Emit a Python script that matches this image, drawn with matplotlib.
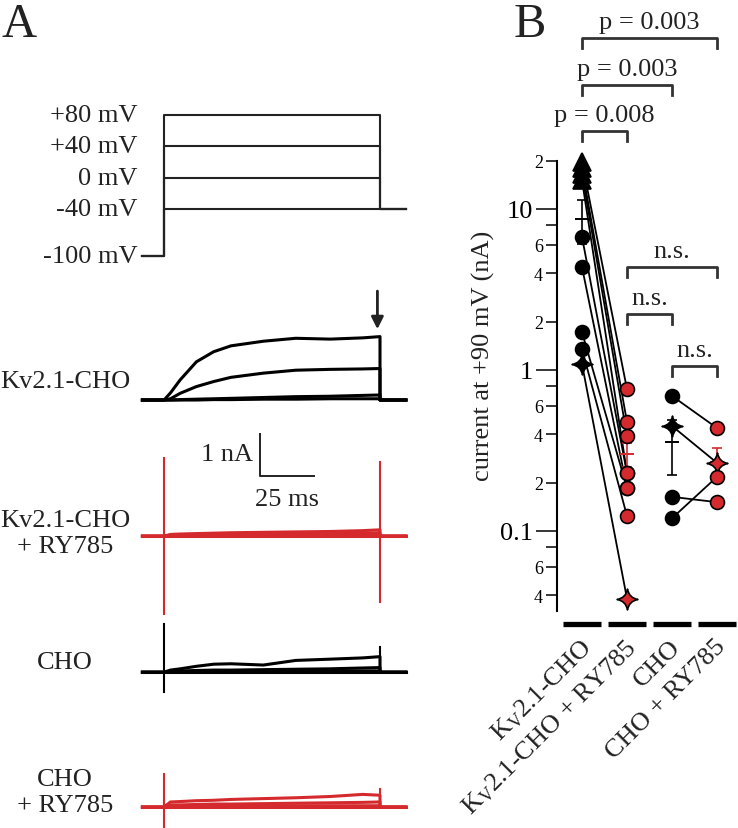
import matplotlib
matplotlib.use("Agg")
import matplotlib.pyplot as plt
import matplotlib.transforms as mtransforms
from matplotlib.path import Path

plt.rcParams['font.family'] = ['Liberation Serif', 'DejaVu Serif']
plt.rcParams['mathtext.fontset'] = 'custom'
plt.rcParams['mathtext.rm'] = 'Liberation Serif'
plt.rcParams['mathtext.it'] = 'Liberation Serif:italic'

W, H = 738, 829
RED = '#d42a2e'
INK = '#222222'
FS = 19

# ---------------- panel A data ----------------
step_levels = [80, 40, 0, -40]          # mV
volt_labels = ['+80 mV', '+40 mV', '0 mV', '-40 mV', '-100 mV']
hold_v = -100
tail_v = -40
t_pre, t_step, t_end = -10, 100, 112    # ms

# currents (nA) at these times during the step
t_samp = [0, 3, 7.5, 15, 23, 31, 46, 61, 77, 92, 100]
kv_traces = [
    [0, 0.17, 0.48, 0.91, 1.15, 1.29, 1.40, 1.47, 1.45, 1.48, 1.51],
    [0, 0.03, 0.16, 0.32, 0.44, 0.54, 0.64, 0.71, 0.73, 0.74, 0.75],
    [0, 0.0, 0.01, 0.02, 0.03, 0.04, 0.06, 0.08, 0.09, 0.11, 0.12],
    [0, 0.0, 0.0, 0.0, 0.01, 0.01, 0.02, 0.02, 0.03, 0.03, 0.03],
]
kvry_traces = [
    [0, 0.04, 0.05, 0.06, 0.07, 0.08, 0.09, 0.10, 0.11, 0.13, 0.15],
    [0, 0.02, 0.03, 0.03, 0.04, 0.05, 0.05, 0.06, 0.07, 0.07, 0.08],
    [0, 0.01, 0.01, 0.01, 0.02, 0.02, 0.02, 0.03, 0.03, 0.03, 0.03],
    [0, 0.0, 0.0, 0.0, 0.0, 0.0, 0.0, 0.0, 0.0, 0.0, 0.0],
]
cho_traces = [
    [0, 0.05, 0.08, 0.14, 0.19, 0.20, 0.17, 0.28, 0.31, 0.34, 0.37],
    [0, 0.02, 0.03, 0.04, 0.05, 0.05, 0.06, 0.07, 0.08, 0.10, 0.11],
    [0, 0.01, 0.01, 0.02, 0.02, 0.02, 0.02, 0.03, 0.03, 0.03, 0.03],
    [0, 0.0, 0.0, 0.0, 0.0, 0.0, 0.0, 0.0, 0.0, 0.0, 0.0],
]
chory_traces = [
    [0, 0.12, 0.13, 0.15, 0.16, 0.18, 0.20, 0.22, 0.25, 0.30, 0.28],
    [0, 0.05, 0.05, 0.06, 0.07, 0.07, 0.08, 0.09, 0.10, 0.11, 0.12],
    [0, 0.02, 0.02, 0.02, 0.02, 0.02, 0.03, 0.03, 0.03, 0.03, 0.03],
    [0, 0.0, 0.0, 0.0, 0.0, 0.0, 0.0, 0.0, 0.0, 0.0, 0.0],
]
# capacitive transients (nA): on-up, on-down, off-up, off-down
kvry_spikes = [1.86, -1.86, 1.76, -1.57]
cho_spikes = [1.14, -0.48, 0.61, 0.0]
chory_spikes = [0.78, -0.6, 0.42, 0.0]

groups = [
    ('Kv2.1-CHO', kv_traces, None, 'k', 9.69, 382),
    ('Kv2.1-CHO\n+ RY785', kvry_traces, kvry_spikes, RED, 6.45, 534),
    ('CHO', cho_traces, cho_spikes, 'k', 3.21, 663),
    ('CHO\n+ RY785', chory_traces, chory_spikes, RED, 0.0, 793),
]

# ---------------- panel B data ----------------
cats = ['K$_{\\rm V}$2.1-CHO', 'K$_{\\rm V}$2.1-CHO + RY785', 'CHO', 'CHO + RY785']
kv_ctrl = [19.6, 17.9, 16.5, 15.1, 6.7, 4.36, 1.72, 1.35, 1.09]
kv_ry = [0.76, 0.475, 0.389, 0.229, 0.229, 0.185, 0.185, 0.124, 0.038]
kv_ctrl_mk = ['^', '^', '^', '^', 'o', 'o', 'o', 'o', 'star']
kv_ry_mk = ['o', 'o', 'o', 'o', 'o', 'o', 'o', 'o', 'star']
cho_ctrl = [0.69, 0.449, 0.163, 0.12]
cho_ry = [0.436, 0.265, 0.151, 0.217]
cho_mk = ['o', 'star', 'o', 'o']
means = [8.7, 0.30, 0.357, 0.267]
sems = [2.6, 0.05, 0.134, 0.06]
p_pairs = [(0, 1), (0, 2), (0, 3)]
p_texts = ['p = 0.008', 'p = 0.003', 'p = 0.003']
ns_pairs = [(1, 3), (1, 2), (2, 3)]

# 4-point star marker
star = Path([(0, 1), (0.15, 0.15), (1, 0), (0.15, -0.15), (0, -1),
             (-0.15, -0.15), (-1, 0), (-0.15, 0.15), (0, 1), (0, 1)],
            [Path.MOVETO, Path.CURVE3, Path.CURVE3, Path.CURVE3, Path.CURVE3,
             Path.CURVE3, Path.CURVE3, Path.CURVE3, Path.CURVE3, Path.CLOSEPOLY])


def mk(name):
    return star if name == 'star' else name


def msize(name):
    return {'o': 10, '^': 13, 'star': 15}[name]


fig = plt.figure(figsize=(W / 100, H / 100), dpi=100)


def add_ax(x0, y0, x1, y1):
    # pixel box: left, top, right, bottom
    a = fig.add_axes([x0 / W, 1 - y1 / H, (x1 - x0) / W, (y1 - y0) / H])
    a.axis('off')
    return a


def ftxt(x, y, s, **kw):
    fig.text(x / W, 1 - y / H, s, **kw)


PX0, PX_MS = 164, 2.16   # pixel of t=0, pixels per ms

# voltage protocol
axp = add_ax(130, 100, 420, 270)
axp.set_xlim((130 - PX0) / PX_MS, (420 - PX0) / PX_MS)
axp.set_ylim(-40 - (270 - 210) / 0.7833, -40 + (210 - 100) / 0.7833)
for v in step_levels:
    axp.plot([t_pre, 0, 0, t_step, t_step, t_end],
             [hold_v, hold_v, v, v, tail_v, tail_v], color=INK, lw=1.5)
for v, lab in zip(step_levels + [hold_v], volt_labels):
    axp.text(-12.4, v, lab, ha='right', va='center', fontsize=FS, color=INK)

# current traces
axt = add_ax(130, 280, 420, 829)
axt.set_xlim((130 - PX0) / PX_MS, (420 - PX0) / PX_MS)
axt.set_ylim(-0.5, (808 - 280) / 42)
for label, traces, spikes, col, off, ly in groups:
    for tr in traces:
        xs = [t_pre] + t_samp + [t_step, t_end]
        ys = [0] + tr + [0, 0]
        axt.plot(xs, [y + off for y in ys], color=col, lw=2.2,
                 solid_joinstyle='round')
    if spikes is not None:
        axt.plot([0, 0], [off + spikes[0], off + spikes[1]], color=col, lw=1.5)
        axt.plot([t_step, t_step], [off + spikes[2], off + spikes[3]], color=col, lw=1.5)
    ftxt(65, ly, label, ha='center', va='center', fontsize=FS, color=INK,
         multialignment='center', linespacing=1.25)

# scale bar 1 nA / 25 ms
sb_t, sb_y = 44.4, 7.88
axt.plot([sb_t, sb_t, sb_t + 25], [sb_y + 1, sb_y, sb_y], color=INK, lw=1.4)
axt.text(sb_t - 3, sb_y + 0.52, '1 nA', ha='right', va='center', fontsize=FS, color=INK)
axt.text(sb_t + 12.5, sb_y - 0.55, '25 ms', ha='center', va='center', fontsize=FS, color=INK)
axt.annotate('', xy=(t_step - 1.2, 11.31), xytext=(t_step - 1.2, 12.35),
             arrowprops=dict(arrowstyle='-|>', color=INK, lw=2, mutation_scale=18))

ftxt(2, 37, 'A', fontsize=35, ha='left', va='baseline', color=INK)
ftxt(514, 37, 'B', fontsize=35, ha='left', va='baseline', color=INK)

# ---------------- panel B ----------------
axb = fig.add_axes([557 / W, 1 - 640 / H, 181 / W, 640 / H])
axb.set_yscale('log')
axb.set_ylim(10 ** ((371 - 640) / 161), 10 ** (371 / 161))
axb.set_xlim(-25 / 45, 3 + 21 / 45)
for s in ['top', 'right', 'bottom']:
    axb.spines[s].set_visible(False)
axb.spines['left'].set_bounds(0.032, 20)
axb.spines['left'].set_linewidth(1.5)
axb.set_xticks([])
axb.set_yticks([0.1, 1, 10])
axb.set_yticklabels(['0.1', '1', '10'])
minor = [0.04, 0.06, 0.08, 0.2, 0.4, 0.6, 0.8, 2, 4, 6, 8, 20]
axb.set_yticks(minor, minor=True)
axb.set_yticklabels(['4', '6', '', '2', '4', '6', '', '2', '4', '6', '', '2'], minor=True)
axb.tick_params(axis='y', which='major', length=15, width=1.1, labelsize=FS, pad=2)
axb.tick_params(axis='y', which='minor', length=8, width=1.1, labelsize=13, pad=2)

for a, b in zip(kv_ctrl, kv_ry):
    axb.plot([0, 1], [a, b], color='k', lw=1.3, zorder=2)
for a, b in zip(cho_ctrl, cho_ry):
    axb.plot([2, 3], [a, b], color='k', lw=1.3, zorder=2)

for i, (m, s) in enumerate(zip(means, sems)):
    c = 'k' if i % 2 == 0 else RED
    axb.errorbar(i, m, yerr=s, fmt='none', ecolor=c, elinewidth=1.2,
                 capsize=3.5, capthick=1.2, zorder=3)
    axb.plot(i, m, marker='_', ms=10, mew=1.4, color=c, zorder=3)

for x, vals, mks, face in [(0, kv_ctrl, kv_ctrl_mk, 'k'), (1, kv_ry, kv_ry_mk, RED),
                           (2, cho_ctrl, cho_mk, 'k'), (3, cho_ry, cho_mk, RED)]:
    for v, m in zip(vals, mks):
        axb.plot(x, v, marker=mk(m), ms=msize(m), mfc=face, mec='k',
                 mew=1.2, zorder=4, clip_on=False)

trans = mtransforms.blended_transform_factory(axb.transData, axb.transAxes)


def bracket(i, j, ypx, text):
    y = (640 - ypx) / 640
    d = 10 / 640
    axb.plot([i, i, j, j], [y - d, y, y, y - d], color='#333333', lw=2,
             transform=trans, clip_on=False)
    axb.text((i + j) / 2, y + 5 / 640, text, ha='center', va='bottom',
             fontsize=FS, color=INK, transform=trans)


for (i, j), t, ypx in zip(p_pairs, p_texts, [132, 86, 39]):
    bracket(i, j, ypx, t)
for (i, j), ypx in zip(ns_pairs, [268, 315, 367]):
    bracket(i, j, ypx, 'n.s.')

for i, lab in enumerate(cats):
    axb.plot([i - 0.433, i + 0.433], [15 / 640] * 2, color='k', lw=3.8,
             solid_capstyle='butt', transform=trans, clip_on=False)
    axb.text(i - 0.06, 4 / 640, lab, ha='right', va='top', rotation=45,
             rotation_mode='anchor', fontsize=FS, color=INK, transform=trans)

ftxt(483, 356, 'current at +90 mV (nA)', rotation=90, ha='center', va='center',
     fontsize=FS, color=INK)

fig.savefig('out.png', dpi=100)
